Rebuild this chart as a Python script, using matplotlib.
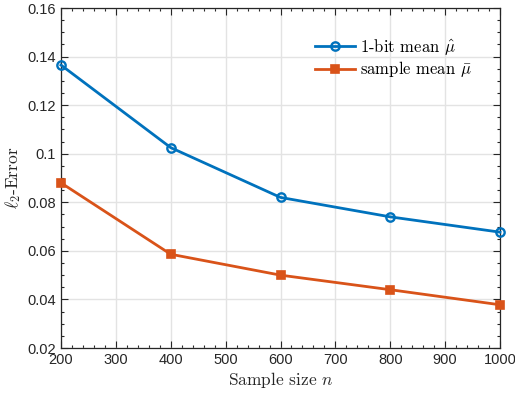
import matplotlib
matplotlib.use("Agg")
import matplotlib.pyplot as plt
from matplotlib.ticker import MultipleLocator

n_values = [200, 400, 600, 800, 1000]
err_1bit = [0.1365, 0.1025, 0.082, 0.074, 0.0677]
err_sample = [0.0880, 0.0586, 0.0500, 0.0440, 0.0378]
x_ticks = [200, 300, 400, 500, 600, 700, 800, 900, 1000]
y_ticks = [0.02, 0.04, 0.06, 0.08, 0.1, 0.12, 0.14, 0.16]
y_tick_labels = ["0.02", "0.04", "0.06", "0.08", "0.1", "0.12", "0.14", "0.16"]

plt.rcParams['mathtext.fontset'] = 'cm'
plt.rcParams['font.family'] = ['Liberation Sans', 'DejaVu Sans']

fig = plt.figure(figsize=(5.15, 3.94), dpi=100)
ax = fig.add_axes([61/515, 1-348/394, (500-61)/515, (348-8)/394])

blue = '#0072BD'
orange = '#D95319'
ax.plot(n_values, err_1bit, color=blue, lw=2.0, marker='o', ms=6,
        mfc='none', mew=1.7, label=r'1-bit mean $\hat{\mu}$', zorder=3, clip_on=False)
ax.plot(n_values, err_sample, color=orange, lw=2.0, marker='s', ms=5.5,
        mfc=orange, mew=1.2, label=r'sample mean $\bar{\mu}$', zorder=3, clip_on=False)

ax.set_xlim(200, 1000)
ax.set_ylim(0.02, 0.16)
ax.set_xticks(x_ticks)
ax.set_yticks(y_ticks)
ax.set_yticklabels(y_tick_labels)
ax.xaxis.set_minor_locator(MultipleLocator(20))
ax.yaxis.set_minor_locator(MultipleLocator(0.005))
ax.tick_params(which='both', direction='in', top=True, right=True,
               colors='#262626', labelcolor='#262626', labelsize=10.5)
ax.tick_params(which='major', length=5, width=0.8)
ax.tick_params(which='minor', length=2.5, width=0.8)
for s in ax.spines.values():
    s.set_color('#262626')
    s.set_linewidth(0.9)
ax.grid(True, which='major', color='#e3e3e3', lw=1.0)
ax.set_axisbelow(True)

ax.set_xlabel('Sample size $n$', family='cmr10', fontsize=12.5, color='#262626', labelpad=2)
ax.set_ylabel(r'$\ell_2$-Error', family='cmr10', fontsize=12.5, color='#262626', labelpad=3)

leg = ax.legend(loc='upper right', bbox_to_anchor=(0.935, 0.915), frameon=False,
                prop={'family': 'cmr10', 'size': 12}, handlelength=2.4,
                handletextpad=0.3, labelspacing=0.15, borderaxespad=0,
                borderpad=0)

fig.savefig('out.png', dpi=100)
